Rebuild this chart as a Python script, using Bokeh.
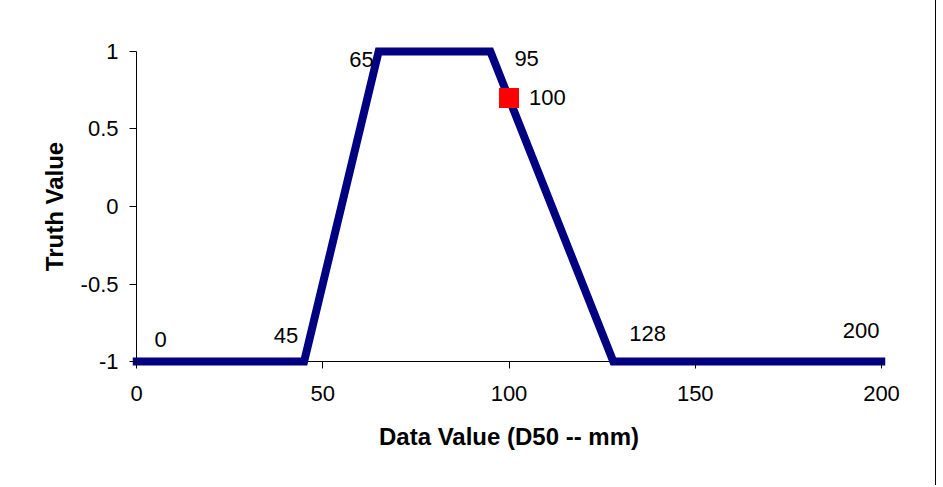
from bokeh.plotting import figure
from bokeh.models import ColumnDataSource, FixedTicker, Range1d
from bokeh.core.properties import value
from bokeh.embed import file_html
from bokeh.resources import INLINE

# ---- data ----
X_VALUES = [0, 45, 65, 95, 128, 200]
Y_VALUES = [-1, -1, 1, 1, -1, -1]
POINT_X = [100]
POINT_Y = [0.7]
X_TICKS = [0, 50, 100, 150, 200]
X_TICK_LABELS = ["0", "50", "100", "150", "200"]
Y_TICKS = [-1.0, -0.5, 0.0, 0.5, 1.0]
Y_TICK_LABELS = ["-1", "-0.5", "0", "0.5", "1"]
X_MIN, X_MAX = 0, 200
Y_MIN, Y_MAX = -1, 1

# ---- label placement (screen px) ----
LABEL_ALIGN = ["left", "right", "right", "left", "left", "right"]
LABEL_DX = [18, -6, -5, 24, 16, -2]
LABEL_DY = [-22, -26, 8, 7, -28, -31]
POINT_LABEL_DX = [20]
POINT_LABEL_DY = [0]

FONT = "Liberation Sans"
XPAD = 1.074   # range padding so the thick line is not clipped
YPAD = 0.0645

p = figure(width=936, height=485, output_backend="svg", toolbar_location=None,
           x_range=Range1d(X_MIN - XPAD, X_MAX + XPAD),
           y_range=Range1d(Y_MIN - YPAD, Y_MAX + YPAD),
           min_border_left=132, min_border_right=51,
           min_border_top=41, min_border_bottom=114)
p.outline_line_color = None
p.grid.visible = False
p.background_fill_color = "white"
p.border_fill_color = "white"
p.styles = {"border-right": "1px solid black"}

# axis lines at x = 0 and y = -1
p.segment(x0=[X_MIN, X_MIN], y0=[Y_MIN, Y_MIN], x1=[X_MAX, X_MIN], y1=[Y_MIN, Y_MAX],
          line_color="black", line_width=1)

p.line(X_VALUES, Y_VALUES, line_color="#000080", line_width=8,
       line_cap="square", line_join="miter")
p.scatter(POINT_X, POINT_Y, marker="square", size=20,
          fill_color="#FF0000", line_color=None)

lbl = ColumnDataSource(dict(
    x=X_VALUES + POINT_X,
    y=Y_VALUES + POINT_Y,
    text=[str(v) for v in X_VALUES] + [str(v) for v in POINT_X],
    align=LABEL_ALIGN + ["left"],
    dx=LABEL_DX + POINT_LABEL_DX,
    dy=LABEL_DY + POINT_LABEL_DY,
))
p.text(x="x", y="y", text="text", source=lbl, text_align="align",
       x_offset="dx", y_offset="dy", text_baseline="alphabetic",
       text_font=value(FONT), text_font_size="22px", text_color="black")

# axes
xa = p.xaxis[0]
ya = p.yaxis[0]
xa.ticker = FixedTicker(ticks=X_TICKS)
ya.ticker = FixedTicker(ticks=Y_TICKS)
xa.major_label_overrides = {float(t): s for t, s in zip(X_TICKS, X_TICK_LABELS)}
ya.major_label_overrides = {float(t): s for t, s in zip(Y_TICKS, Y_TICK_LABELS)}
for ax in (xa, ya):
    ax.minor_tick_line_color = None
    ax.axis_line_color = None
    ax.major_tick_line_color = "black"
    ax.major_label_text_font = FONT
    ax.major_label_text_font_size = "22px"
    ax.major_label_text_color = "black"
    ax.axis_label_text_font = FONT
    ax.axis_label_text_font_size = "24px"
    ax.axis_label_text_font_style = "bold"
    ax.axis_label_text_color = "black"
# axes sit at the padded frame edges: shift ticks onto x = 0 / y = -1
xa.major_tick_in = 10
xa.major_tick_out = -3
ya.major_tick_in = 4
ya.major_tick_out = 3
xa.axis_label = "Data Value (D50 -- mm)"
ya.axis_label = "Truth Value"
xa.major_label_standoff = 14
ya.major_label_standoff = 11
xa.axis_label_standoff = 19
ya.axis_label_standoff = 10

open("out.html", "w").write(file_html(p, INLINE))
